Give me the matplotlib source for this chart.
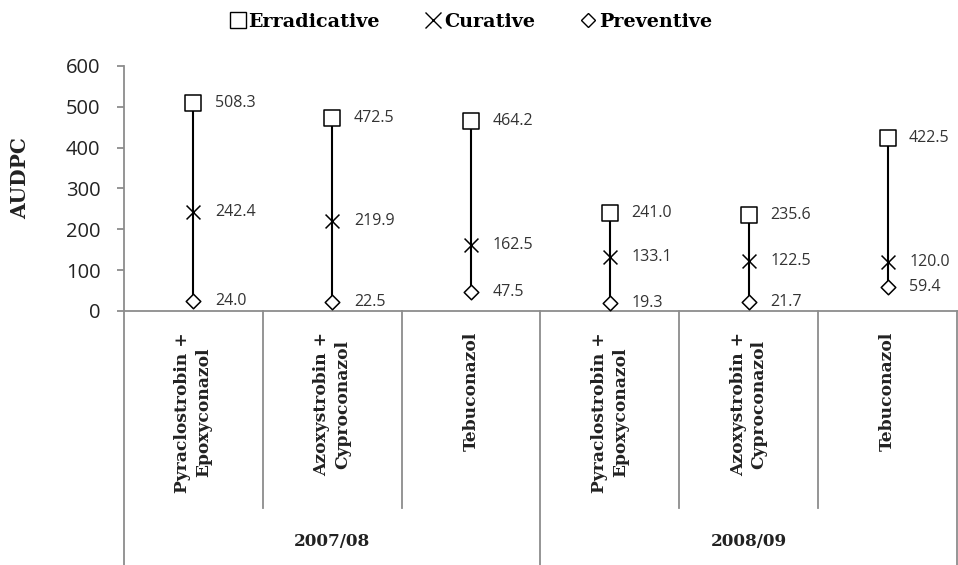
import numpy as np
import matplotlib
matplotlib.use("Agg")
from matplotlib import pyplot as plt
from matplotlib.lines import Line2D
from matplotlib.transforms import blended_transform_factory

treatments = ["Pyraclostrobin +\nEpoxyconazol", "Azoxystrobin +\nCyproconazol", "Tebuconazol",
              "Pyraclostrobin +\nEpoxyconazol", "Azoxystrobin +\nCyproconazol", "Tebuconazol"]
seasons = ["2007/08", "2008/09"]
erradicative = [508.3, 472.5, 464.2, 241.0, 235.6, 422.5]
curative = [242.4, 219.9, 162.5, 133.1, 122.5, 120.0]
preventive = [24.0, 22.5, 47.5, 19.3, 21.7, 59.4]

serif = ["DejaVu Serif"]
sans = ["Open Sans", "DejaVu Sans"]
grey = "#8c8c8c"
ink = "#222222"

fig = plt.figure(figsize=(9.58, 5.65), dpi=100)
W, H = 958, 565
ax = fig.add_axes([124 / W, (H - 311) / H, (957 - 124) / W, (311 - 66) / H])

x = np.arange(len(treatments)) + 0.5
ax.vlines(x, preventive, erradicative, color="black", lw=1.5, zorder=2)
ax.scatter(x, erradicative, marker="s", s=120, facecolor="white", edgecolor="black", lw=1.1, zorder=3)
ax.scatter(x, curative, marker="x", s=100, color="black", lw=1.1, zorder=3)
ax.scatter(x, preventive, marker="D", s=55, facecolor="white", edgecolor="black", lw=1.1, zorder=3)

for xi, vals in zip(x, zip(erradicative, curative, preventive)):
    for v in vals:
        ax.annotate(f"{v:.1f}", (xi, v), xytext=(15.5, 0), textcoords="offset points",
                    va="center", ha="left", fontsize=11.5, family=sans, color="#333333")

ax.set_xlim(0, len(treatments))
ax.set_ylim(0, 600)
ax.set_yticks(range(0, 601, 100))
ax.tick_params(axis="y", direction="out", length=5, color=grey, width=1.3, labelsize=14.5, pad=12)
for lab in ax.get_yticklabels():
    lab.set_family(sans)
    lab.set_color(ink)
ax.set_xticks([])
for s in ["top", "right"]:
    ax.spines[s].set_visible(False)
for s in ["left", "bottom"]:
    ax.spines[s].set_color(grey)
    ax.spines[s].set_linewidth(1.3)

ax.text(20 / W, 1 - 178 / H, "AUDPC", transform=fig.transFigure, rotation=90,
        ha="center", va="center", family=serif, fontweight="bold", fontsize=14.5, color=ink)

# category table below the axis
tr = blended_transform_factory(ax.transData, ax.transAxes)
inner_bottom = (311 - 508) / 245
outer_bottom = (311 - 566) / 245
for i in range(len(treatments) + 1):
    low = outer_bottom if i % 3 == 0 else inner_bottom
    ax.add_line(Line2D([i, i], [0, low], transform=tr, color=grey, lw=1.3, clip_on=False))
for xi, name in zip(x, treatments):
    ax.text(xi, (311 - 332) / 245, name, transform=tr, rotation=90, ha="center", va="top",
            family=serif, fontweight="bold", fontsize=12.3, linespacing=1.3, color=ink)
for j, season in enumerate(seasons):
    ax.text(1.5 + 3 * j, (311 - 542) / 245, season, transform=tr, ha="center", va="center",
            family=serif, fontweight="bold", fontsize=12.2, color=ink)

handles = [
    Line2D([], [], ls="none", marker="s", ms=11, mfc="white", mec="black", mew=1.0),
    Line2D([], [], ls="none", marker="x", ms=12, color="black", mew=1.0),
    Line2D([], [], ls="none", marker="D", ms=7.5, mfc="white", mec="black", mew=1.0),
]
fig.legend(handles, ["Erradicative", "Curative", "Preventive"], loc="center",
           bbox_to_anchor=(471 / W, 1 - 22 / H), ncol=3, frameon=False,
           handletextpad=0.15, columnspacing=2.4, handlelength=0.8,
           prop={"family": serif, "weight": "bold", "size": 13.8})

plt.savefig("out.png", dpi=100)
